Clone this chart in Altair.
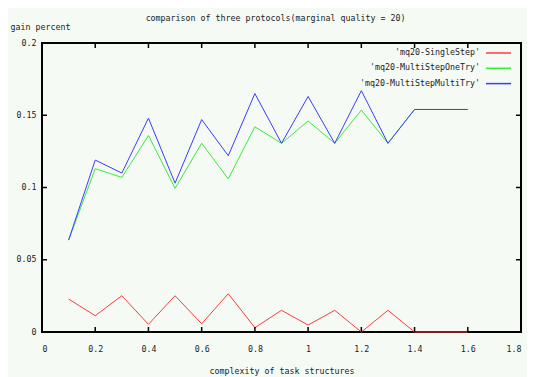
import altair as alt
import pandas as pd

x_vals = [0.1, 0.2, 0.3, 0.4, 0.5, 0.6, 0.7, 0.8, 0.9, 1.0, 1.1, 1.2, 1.3, 1.4, 1.5, 1.6]
single_step = [0.0228, 0.0113, 0.0251, 0.0053, 0.0251, 0.0057, 0.0265, 0.0030,
               0.0150, 0.0048, 0.0150, 0.0000, 0.0150, 0.0000, 0.0000, 0.0000]
multi_one_try = [0.0636, 0.1130, 0.1070, 0.1360, 0.0994, 0.1306, 0.1060, 0.1420,
                 0.1306, 0.1460, 0.1306, 0.1536, 0.1306, 0.1540, 0.1540, 0.1540]
multi_multi_try = [0.0636, 0.1190, 0.1100, 0.1480, 0.1030, 0.1470, 0.1220, 0.1650,
                   0.1306, 0.1630, 0.1306, 0.1670, 0.1306, 0.1540, 0.1540, 0.1540]

series_names = ["'mq20-SingleStep'", "'mq20-MultiStepOneTry'", "'mq20-MultiStepMultiTry'"]
series_colors = ["#ff3b3b", "#3bea3b", "#3b3bff"]
series_values = [single_step, multi_one_try, multi_multi_try]

x_ticks = [0, 0.2, 0.4, 0.6, 0.8, 1.0, 1.2, 1.4, 1.6, 1.8]
y_ticks = [0, 0.05, 0.1, 0.15, 0.2]
x_inner_ticks = [0.2, 0.4, 0.6, 0.8, 1.0, 1.2, 1.4, 1.6]
y_inner_ticks = [0.05, 0.1, 0.15]

W, H = 479, 289
FONT = "DejaVu Sans Mono"
FS = 8.3
TXT = "#222222"
TL = 5

xs = alt.Scale(domain=[0, 1.8], nice=False, zero=False)
ys = alt.Scale(domain=[0, 0.2], nice=False, zero=False)

xaxis = alt.Axis(values=x_ticks, format="~g", title="complexity of task structures",
                 labelPadding=12, titlePadding=14)
yaxis = alt.Axis(values=y_ticks, format="~g", title="gain percent", titleAngle=0,
                 titleAlign="left", titleBaseline="middle", titleX=-32, titleY=-16,
                 labelPadding=6)

layers = []
for name, color, vals in zip(series_names, series_colors, series_values):
    df = pd.DataFrame({"x": x_vals, "y": vals})
    layers.append(
        alt.Chart(df).mark_line(color=color, strokeWidth=1).encode(
            x=alt.X("x:Q", scale=xs, axis=xaxis),
            y=alt.Y("y:Q", scale=ys, axis=yaxis),
        )
    )

xt = pd.DataFrame({"t": x_inner_ticks})
yt = pd.DataFrame({"t": y_inner_ticks})
tick_style = dict(color="black", strokeWidth=1.5)
layers.append(alt.Chart(xt).mark_rule(**tick_style).encode(
    x=alt.X("t:Q", scale=xs), y=alt.value(H), y2=alt.value(H - TL)))
layers.append(alt.Chart(xt).mark_rule(**tick_style).encode(
    x=alt.X("t:Q", scale=xs), y=alt.value(0), y2=alt.value(TL)))
layers.append(alt.Chart(yt).mark_rule(**tick_style).encode(
    y=alt.Y("t:Q", scale=ys), x=alt.value(0), x2=alt.value(TL)))
layers.append(alt.Chart(yt).mark_rule(**tick_style).encode(
    y=alt.Y("t:Q", scale=ys), x=alt.value(W), x2=alt.value(W - TL)))

# key (legend) inside the top-right corner
for i, (name, color) in enumerate(zip(series_names, series_colors)):
    ky = 10 + i * 15.3
    kdf = pd.DataFrame({"label": [name]})
    layers.append(alt.Chart(kdf).mark_text(align="right", baseline="middle", font=FONT,
                                           fontSize=FS, color=TXT).encode(
        text="label:N", x=alt.value(438), y=alt.value(ky)))
    layers.append(alt.Chart(kdf).mark_rule(color=color, strokeWidth=1.5).encode(
        x=alt.value(444), x2=alt.value(469), y=alt.value(ky)))

chart = alt.layer(*layers).properties(
    width=W, height=H,
    title=alt.TitleParams("comparison of three protocols(marginal quality = 20)",
                          font=FONT, fontSize=FS, fontWeight="normal", color=TXT,
                          anchor="middle", offset=0, dx=-6),
    autosize=alt.AutoSizeParams(type="none"),
    padding={"left": 34, "top": 35, "right": 6, "bottom": 45},
).configure(background="#f5faf5").configure_view(
    stroke="black", strokeWidth=2, fill="#f5faf5"
).configure_axis(
    domain=False, ticks=False, grid=False,
    labelFont=FONT, labelFontSize=FS, labelColor=TXT,
    titleFont=FONT, titleFontSize=FS, titleColor=TXT, titleFontWeight="normal",
)

chart.save("out.html", embed_options={"renderer": "svg", "actions": False})
